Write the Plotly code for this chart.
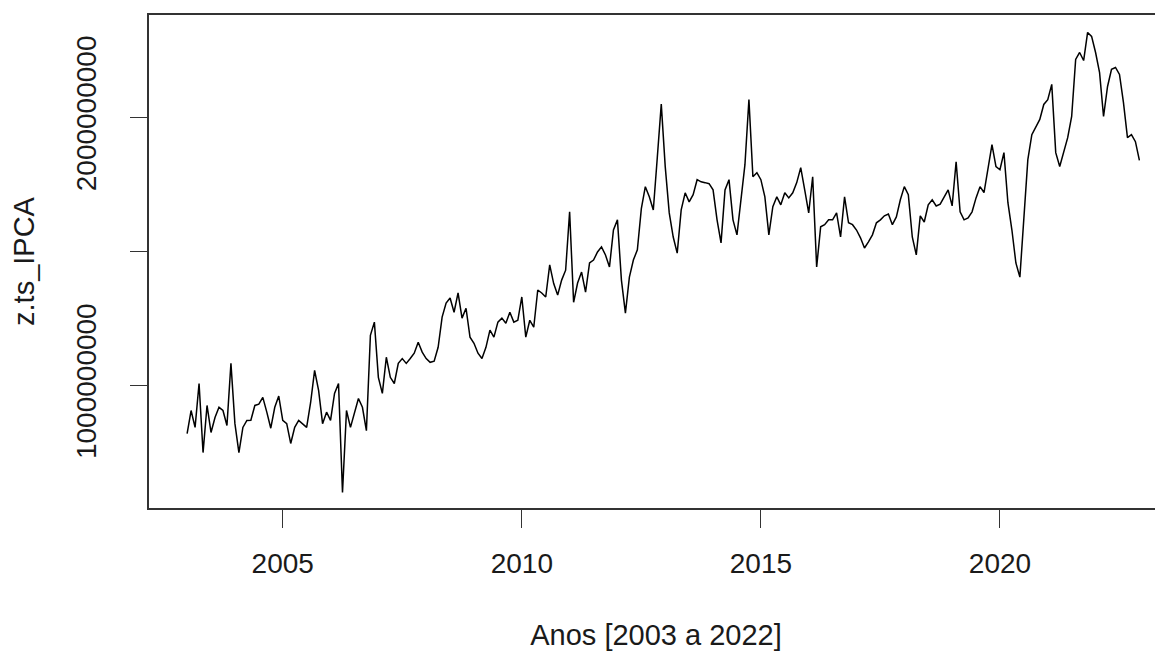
import plotly.graph_objects as go

# Monthly series z.ts_IPCA, Jan 2003 .. Dec 2022 (values in millions)
start_year = 2003
months_per_year = 12
valores_milhoes = [
    820, 906, 843, 1007, 749, 925, 824, 880, 918, 906, 850, 1082,
    857, 749, 843, 869, 870, 925, 930, 955, 900, 840, 918, 960,
    869, 857, 783, 843, 869, 857, 843, 936, 1056, 981, 857, 900,
    869, 970, 1007, 600, 906, 843, 895, 951, 918, 831, 1187, 1236,
    1030, 970, 1105, 1030, 1007, 1082, 1100, 1082, 1100, 1120, 1161, 1124,
    1100, 1086, 1090, 1142, 1255, 1307, 1326, 1273, 1345, 1251, 1288, 1180,
    1157, 1120, 1100, 1142, 1206, 1180, 1236, 1251, 1232, 1273, 1236, 1243,
    1330, 1180, 1243, 1217, 1356, 1345, 1330, 1450, 1380, 1337, 1393, 1430,
    1648, 1310, 1382, 1423, 1348, 1457, 1468, 1498, 1517, 1487, 1442, 1580,
    1618, 1393, 1270, 1404, 1468, 1506, 1660, 1742, 1704, 1655, 1850, 2050,
    1816, 1644, 1554, 1494, 1655, 1719, 1685, 1712, 1768, 1760, 1757, 1753,
    1730, 1618, 1532, 1730, 1768, 1618, 1562, 1693, 1824, 2067, 1779, 1794,
    1768, 1704, 1562, 1667, 1704, 1674, 1719, 1700, 1719, 1757, 1813, 1730,
    1644, 1779, 1442, 1592, 1600, 1618, 1618, 1644, 1554, 1704, 1607, 1600,
    1580, 1551, 1513, 1536, 1562, 1607, 1618, 1633, 1640, 1600, 1629, 1693,
    1742, 1712, 1554, 1487, 1633, 1610, 1674, 1693, 1670, 1677, 1704, 1730,
    1670, 1835, 1648, 1618, 1625, 1648, 1700, 1742, 1720, 1817, 1899, 1817,
    1805, 1869, 1682, 1580, 1457, 1404, 1644, 1843, 1936, 1963, 1993, 2049,
    2067, 2124, 1869, 1817, 1869, 1925, 2004, 2217, 2243, 2213, 2318, 2303,
    2243, 2168, 2004, 2116, 2180, 2187, 2161, 2056, 1925, 1936, 1910, 1840,
]

x_ticks = [2005, 2010, 2015, 2020]
y_ticks = [1000000000, 1500000000, 2000000000]
y_ticktext = ["1000000000", "", "2000000000"]

x_title = "Anos [2003 a 2022]"
y_title = "z.ts_IPCA"

anos = [start_year + i / months_per_year for i in range(len(valores_milhoes))]
valores = [v * 1e6 for v in valores_milhoes]

FONT = "Liberation Sans, Arial, sans-serif"
TXT = "#1a1a1a"

fig = go.Figure()
fig.add_trace(go.Scatter(
    x=anos, y=valores, mode="lines",
    line=dict(color="black", width=1.5),
    hoverinfo="skip", showlegend=False,
))

# page body has an 8px default margin, so the figure is sized to fit the window
fig.update_layout(
    width=1155, height=643,
    margin=dict(l=141, r=0, t=7, b=143),
    paper_bgcolor="white", plot_bgcolor="white",
    font=dict(family=FONT, size=28, color=TXT),
    xaxis=dict(
        range=[2002.203, 2023.41],
        tickvals=x_ticks, ticktext=[str(t) for t in x_ticks],
        ticks="outside", ticklen=18, tickwidth=1.3, tickcolor="#333",
        showline=True, linecolor="#333", linewidth=1.5, mirror=True,
        showgrid=False, zeroline=False, automargin=False,
        ticklabelstandoff=12,
        tickfont=dict(family=FONT, size=28, color=TXT),
        title=dict(text=x_title, font=dict(family=FONT, size=29, color=TXT), standoff=56),
    ),
    yaxis=dict(
        range=[542000000, 2383000000],
        tickvals=y_ticks, ticktext=y_ticktext, tickangle=-90,
        ticks="outside", ticklen=17, tickwidth=1.3, tickcolor="#333",
        showline=True, linecolor="#333", linewidth=1.5, mirror=False,
        showgrid=False, zeroline=False, automargin=False,
        ticklabelstandoff=23,
        tickfont=dict(family=FONT, size=28, color=TXT),
        title=dict(text=y_title, font=dict(family=FONT, size=29, color=TXT), standoff=43),
    ),
)

fig.write_html("out.html")
